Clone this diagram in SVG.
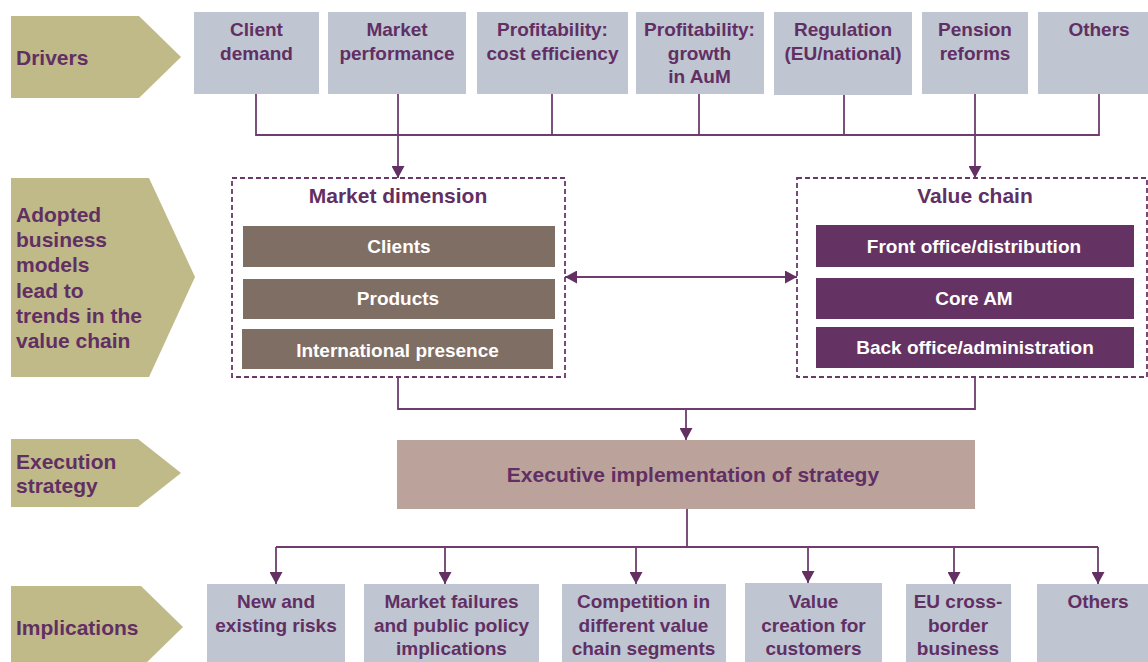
<svg xmlns="http://www.w3.org/2000/svg" width="1148" height="662" viewBox="0 0 1148 662">
<defs>
<marker id="ah" viewBox="0 0 12 13" refX="12" refY="6.5" markerWidth="12" markerHeight="13" markerUnits="userSpaceOnUse" orient="auto-start-reverse">
<path d="M0,0 L12,6.5 L0,13 z" fill="#633062"/>
</marker>
<style>
.chev{fill:#BFBA88}
.drv{fill:#BFC5D1}
.brown{fill:#7F6E64}
.plum{fill:#653264}
.exec{fill:#BBA39C}
.dash{fill:none;stroke:#6A3869;stroke-width:1.8;stroke-dasharray:5,3}
text{font-family:"Liberation Sans",Arial,sans-serif;font-weight:bold}
.lbl{fill:#612F63;font-size:21px}
.dt{fill:#612F63;font-size:19px;text-anchor:middle}
.ttl{fill:#612F63;font-size:21px;text-anchor:middle}
.wt{fill:#FFFFFF;font-size:19px;text-anchor:middle}
.ln{fill:none;stroke:#6E3D6E;stroke-width:1.8}
.arr{fill:none;stroke:#6E3D6E;stroke-width:1.8;marker-end:url(#ah)}
</style>
</defs>
<rect width="1148" height="662" fill="#FFFFFF"/>

<g id="stage-drivers">
<polygon class="chev" points="11,16 139,16 181,57 139,98 11,98"/>
<text class="lbl" x="16" y="65">Drivers</text>
</g>
<g id="stage-adopted">
<polygon class="chev" points="11,178 149,178 195,277 149,377 11,377"/>
<text class="lbl" x="16" y="222">Adopted</text>
<text class="lbl" x="16" y="247">business</text>
<text class="lbl" x="16" y="272">models</text>
<text class="lbl" x="16" y="298">lead to</text>
<text class="lbl" x="16" y="323">trends in the</text>
<text class="lbl" x="16" y="348">value chain</text>
</g>
<g id="stage-execution">
<polygon class="chev" points="11,439 138,439 181,473 138,507 11,507"/>
<text class="lbl" x="16" y="469">Execution</text>
<text class="lbl" x="16" y="493">strategy</text>
</g>
<g id="stage-implications">
<polygon class="chev" points="11,586 141,586 183,627 141,668 11,668"/>
<text class="lbl" x="16" y="635">Implications</text>
</g>

<g id="driver-client">
<rect class="drv" x="194" y="12" width="125" height="82"/>
<text class="dt" x="256.5" y="36">Client</text>
<text class="dt" x="256.5" y="59.5">demand</text>
</g>
<g id="driver-market">
<rect class="drv" x="328" y="12" width="138" height="82"/>
<text class="dt" x="397" y="36">Market</text>
<text class="dt" x="397" y="59.5">performance</text>
</g>
<g id="driver-cost">
<rect class="drv" x="477" y="12" width="151" height="82"/>
<text class="dt" x="552.5" y="36">Profitability:</text>
<text class="dt" x="552.5" y="59.5">cost efficiency</text>
</g>
<g id="driver-growth">
<rect class="drv" x="636" y="12" width="128" height="82"/>
<text class="dt" x="699.5" y="36">Profitability:</text>
<text class="dt" x="699.5" y="59.5">growth</text>
<text class="dt" x="699.5" y="83">in AuM</text>
</g>
<g id="driver-regulation">
<rect class="drv" x="774" y="12" width="138" height="83"/>
<text class="dt" x="843" y="36">Regulation</text>
<text class="dt" x="843" y="59.5">(EU/national)</text>
</g>
<g id="driver-pension">
<rect class="drv" x="922" y="12" width="106" height="82"/>
<text class="dt" x="975" y="36">Pension</text>
<text class="dt" x="975" y="59.5">reforms</text>
</g>
<g id="driver-others">
<rect class="drv" x="1038" y="12" width="122" height="82"/>
<text class="dt" x="1099" y="36">Others</text>
</g>

<g id="market-dimension">
<rect class="dash" x="232" y="178" width="333" height="199"/>
<text class="ttl" x="398" y="203">Market dimension</text>
<rect class="brown" x="243" y="226" width="312" height="41"/>
<text class="wt" x="399" y="253">Clients</text>
<rect class="brown" x="243" y="279" width="312" height="40"/>
<text class="wt" x="398" y="305">Products</text>
<rect class="brown" x="242" y="329" width="311" height="40"/>
<text class="wt" x="397.5" y="357">International presence</text>
</g>

<g id="value-chain">
<rect class="dash" x="797" y="178" width="350" height="199"/>
<text class="ttl" x="975" y="203">Value chain</text>
<rect class="plum" x="816" y="225" width="318" height="42"/>
<text class="wt" x="974" y="253">Front office/distribution</text>
<rect class="plum" x="816" y="278" width="318" height="41"/>
<text class="wt" x="974" y="305">Core AM</text>
<rect class="plum" x="816" y="327" width="318" height="41"/>
<text class="wt" x="975" y="354">Back office/administration</text>
</g>

<g id="executive">
<rect class="exec" x="397" y="440" width="578" height="69"/>
<text class="ttl" x="693" y="482">Executive implementation of strategy</text>
</g>

<g id="impl-risks">
<rect class="drv" x="207" y="584" width="138" height="82"/>
<text class="dt" x="276" y="608">New and</text>
<text class="dt" x="276" y="632">existing risks</text>
</g>
<g id="impl-market">
<rect class="drv" x="364" y="584" width="175" height="82"/>
<text class="dt" x="451.5" y="608">Market failures</text>
<text class="dt" x="451.5" y="632">and public policy</text>
<text class="dt" x="451.5" y="655">implications</text>
</g>
<g id="impl-competition">
<rect class="drv" x="562" y="584" width="164" height="82"/>
<text class="dt" x="643.5" y="608">Competition in</text>
<text class="dt" x="643.5" y="632">different value</text>
<text class="dt" x="643.5" y="655">chain segments</text>
</g>
<g id="impl-value">
<rect class="drv" x="745" y="583" width="137" height="83"/>
<text class="dt" x="813.5" y="608">Value</text>
<text class="dt" x="813.5" y="632">creation for</text>
<text class="dt" x="813.5" y="655">customers</text>
</g>
<g id="impl-eu">
<rect class="drv" x="906" y="584" width="105" height="82"/>
<text class="dt" x="958" y="608">EU cross-</text>
<text class="dt" x="958" y="632">border</text>
<text class="dt" x="958" y="655">business</text>
</g>
<g id="impl-others">
<rect class="drv" x="1037" y="584" width="122" height="82"/>
<text class="dt" x="1098" y="608">Others</text>
</g>

<g id="connectors">
<path class="ln" d="M256,94 V135 H1099 V94"/>
<path class="ln" d="M552,94 V135"/>
<path class="ln" d="M699,94 V135"/>
<path class="ln" d="M844,95 V135"/>
<path class="arr" d="M398,94 V178"/>
<path class="arr" d="M975,94 V178"/>
<path class="ln" d="M565,277 H797" style="marker-start:url(#ah);marker-end:url(#ah)"/>
<path class="ln" d="M398,377 V409 H975 V377"/>
<path class="arr" d="M686,409 V440"/>
<path class="ln" d="M687,509 V547"/>
<path class="ln" d="M276,547 H1098"/>
<path class="arr" d="M276,547 V584"/>
<path class="arr" d="M445,547 V584"/>
<path class="arr" d="M636,547 V584"/>
<path class="arr" d="M808,547 V583"/>
<path class="arr" d="M954,547 V584"/>
<path class="arr" d="M1098,547 V584"/>
</g>
</svg>
